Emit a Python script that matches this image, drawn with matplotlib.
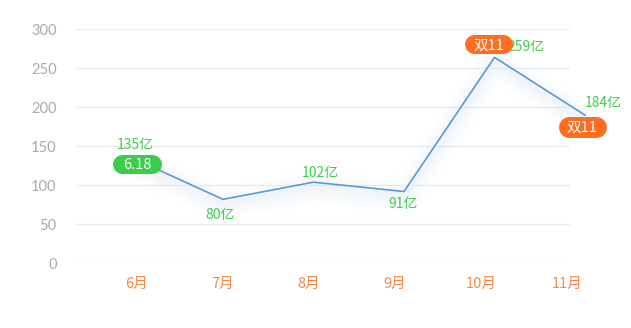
import matplotlib
matplotlib.use("Agg")
import matplotlib.pyplot as plt
import matplotlib.transforms as mtransforms

plt.rcParams['font.family'] = ['Noto Sans CJK SC', 'DejaVu Sans']

# ---- data ----
months = ['6月', '7月', '8月', '9月', '10月', '11月']
values = [135, 82, 104, 92, 264, 190]
value_labels = ['135亿', '80亿', '102亿', '91亿', '259亿', '184亿']
yticks = [0, 50, 100, 150, 200, 250, 300]
badges = {0: '6.18', 4: '双11', 5: '双11'}

# ---- styles ----
W, H, DPI = 631, 328, 100
line_color = '#5899dc'
glow_color = '#b3d3f7'
green_text = '#3fcf4c'
green_pill = '#3bcc4b'
orange_pill = '#ff6e20'
xlabel_color = '#f38a4c'
ytick_color = '#aaaaaa'
grid_color = '#ececec'

fig = plt.figure(figsize=(W / DPI, H / DPI), dpi=DPI)
fig.patch.set_facecolor('white')

left_px, right_px, top_px, bot_px = 76, 570, 29.3, 263.3
pos = [left_px / W, (H - bot_px) / H, (right_px - left_px) / W, (bot_px - top_px) / H]
ax = fig.add_axes(pos)
ax.set_ylim(0, 300)
# category label axis: label i at 137 + 86 i px
ax.set_xlim((left_px - 137) / 86, (right_px - 137) / 86)
ax.set_yticks(yticks)
ax.set_yticklabels([str(v) for v in yticks], family=['Lato', 'DejaVu Sans'],
                   fontsize=10.5, color=ytick_color)
ax.set_xticks(range(len(months)))
ax.set_xticklabels(months, fontsize=10.5, color=xlabel_color)
ax.tick_params(axis='y', length=0, pad=14)
ax.tick_params(axis='x', length=0, pad=10)
for s in ax.spines.values():
    s.set_visible(False)
ax.grid(axis='y', color=grid_color, linewidth=1)
ax.set_axisbelow(True)

# line axis: point i at 132.5 + 90.5 i px
lax = fig.add_axes(pos, sharey=ax)
lax.set_xlim((left_px - 132.5) / 90.5, (right_px - 132.5) / 90.5)
lax.axis('off')
lax.patch.set_alpha(0)
xs = list(range(len(values)))

# glow / shadow
for lw, a in [(26, 0.02), (20, 0.025), (14, 0.035), (9, 0.045), (5, 0.06)]:
    off = mtransforms.offset_copy(lax.transData, fig=fig, x=0, y=-5, units='dots')
    lax.plot(xs, values, color=glow_color, lw=lw, alpha=a, solid_capstyle='round',
             solid_joinstyle='round', transform=off, clip_on=False)
lax.plot(xs, values, color=line_color, lw=1.2, clip_on=False, zorder=3)

# value labels (offset in pixels from the point)
label_offsets = [(2.5, 13), (-3, -16), (7, 9), (-1, -12), (32, 10), (18, 12)]
for i, (txt, (dx, dy)) in enumerate(zip(value_labels, label_offsets)):
    lax.annotate(txt, (xs[i], values[i]), xytext=(dx, dy), textcoords='offset pixels',
                 ha='center', va='center', fontsize=10, color=green_text,
                 annotation_clip=False, zorder=5)

# badges (pills drawn as thick round-capped strokes)
badge_offsets = {0: (4.5, -6, 49, 19, green_pill),
                 4: (-6, 13, 48, 19, orange_pill),
                 5: (-3, -12, 48, 21, orange_pill)}
for i, txt in badges.items():
    dx, dy, bw, bh, col = badge_offsets[i]
    tr = mtransforms.Affine2D().translate(dx, dy) + \
        mtransforms.ScaledTranslation(xs[i], values[i], lax.transData)
    half = bw / 2 - bh / 2
    lax.plot([-half, half], [0, 0], color=col, lw=bh * 72 / DPI,
             solid_capstyle='round', transform=tr, clip_on=False, zorder=6)
    lax.annotate(txt, (xs[i], values[i]), xytext=(dx, dy - 1), textcoords='offset pixels',
                 ha='center', va='center', fontsize=10.5, color='white',
                 annotation_clip=False, zorder=7)

fig.savefig('out.png', dpi=DPI, facecolor='white')
